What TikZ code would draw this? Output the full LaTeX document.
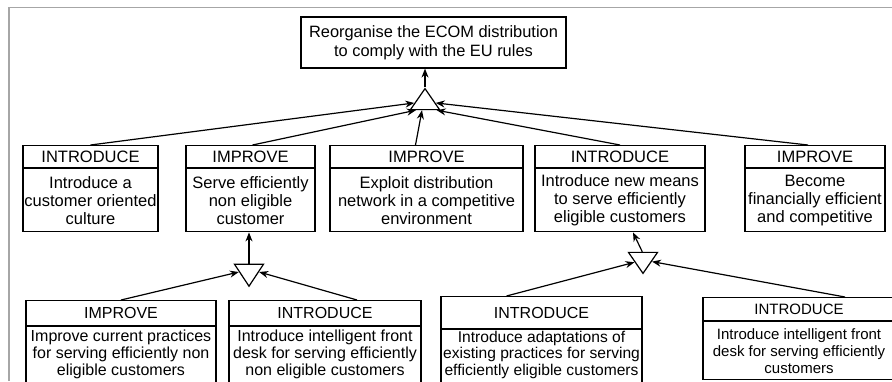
\documentclass[tikz,border=0pt]{standalone}
\usepackage{fontspec}
\setmainfont{Liberation Sans}
\usetikzlibrary{positioning,shapes.geometric,arrows.meta}

\begin{document}
\begin{tikzpicture}[x=1pt,y=-1pt,->,>={Stealth[length=9pt,width=7pt]},line width=1.2pt,
    head/.style={draw,-,minimum height=22pt,inner sep=0pt,font=\fontsize{16.5}{18}\selectfont},
    body/.style={draw,-,align=center,minimum height=63pt,inner sep=0pt,font=\fontsize{16.5}{18}\selectfont},
    lowbody/.style={body,minimum height=0pt,inner ysep=3pt,anchor=north,font=\fontsize{16}{17}\selectfont},
    andgate/.style={draw,-,isosceles triangle,isosceles triangle stretches,inner sep=0pt,
      minimum width=29pt,minimum height=21pt}]
  \useasboundingbox (0,0) rectangle (892,381);
  \draw[-,black!35,line width=1.5pt] (9,381) -- (9,7.5) -- (892,7.5);

  % goal
  \node[draw,align=center,minimum width=265pt,minimum height=51pt,inner sep=0pt,
    font=\fontsize{16.4}{19}\selectfont] (goal) at (433.5,42.5)
    {Reorganise the ECOM distribution\\to comply with the EU rules};
  \node[andgate,shape border rotate=90] (t0) at (425,102) {};

  % second level
  \node[head,minimum width=135pt,anchor=north] (h1) at (90.5,145) {INTRODUCE};
  \node[body,minimum width=135pt,below=0pt of h1] (b1) {Introduce a\\customer oriented\\culture};
  \node[head,minimum width=129pt,anchor=north] (h2) at (250.5,145) {IMPROVE};
  \node[body,minimum width=129pt,below=0pt of h2] (b2) {Serve efficiently\\non eligible\\customer};
  \node[head,minimum width=193pt,anchor=north] (h3) at (426.5,145) {IMPROVE};
  \node[body,minimum width=193pt,below=0pt of h3] (b3) {Exploit distribution\\network in a competitive\\environment};
  \node[head,minimum width=170pt,anchor=north] (h4) at (620,145) {INTRODUCE};
  \node[body,minimum width=170pt,below=0pt of h4] (b4) {Introduce new means\\to serve efficiently\\eligible customers};
  \node[head,minimum width=140pt,anchor=north] (h5) at (815,145) {IMPROVE};
  \node[body,minimum width=140pt,below=0pt of h5] (b5) {Become\\financially efficient\\and competitive};

  \draw (h1.north) -- (t0.185);
  \draw ([xshift=2pt]h2.north) -- (t0.222);
  \draw ([xshift=-11pt]h3.north) -- (t0.250);
  \draw (h4.north) -- (t0.325);
  \draw ([xshift=-7pt]h5.north) -- (t0.355);
  \draw (t0.apex) -- (t0.apex |- goal.south);

  % third level
  \node[andgate,shape border rotate=270,minimum height=22pt] (t1) at (249,272) {};
  \node[andgate,shape border rotate=270] (t2) at (643,260) {};

  \node[head,minimum width=190pt,minimum height=25pt,anchor=north,font=\fontsize{16}{17}\selectfont] (h6) at (121,300) {IMPROVE};
  \node[lowbody,minimum width=190pt] (b6) at (h6.south)
    {Improve current practices\\for serving efficiently non\\eligible customers\\ \strut\\ \strut};
  \node[head,minimum width=192pt,minimum height=25pt,anchor=north,font=\fontsize{16}{17}\selectfont] (h7) at (325,300) {INTRODUCE};
  \node[lowbody,minimum width=192pt] (b7) at (h7.south)
    {Introduce intelligent front\\desk for serving efficiently\\non eligible customers\\ \strut\\ \strut};
  \node[head,minimum width=201pt,minimum height=32pt,anchor=north,font=\fontsize{16}{17}\selectfont] (h8) at (541.5,296) {INTRODUCE};
  \node[lowbody,minimum width=201pt,inner ysep=1pt,font=\fontsize{15.6}{16.5}\selectfont] (b8) at (h8.south)
    {Introduce adaptations of\\existing practices for serving\\efficiently eligible customers\\ \strut\\ \strut};
  \node[head,minimum width=192pt,minimum height=23pt,anchor=north,font=\fontsize{15}{17}\selectfont] (h9) at (799,297) {INTRODUCE};
  \node[body,minimum width=192pt,minimum height=58pt,below=0pt of h9,font=\fontsize{15}{17}\selectfont] (b9)
    {Introduce intelligent front\\desk for serving efficiently\\customers};

  \draw (h6.north) -- (t1.180);
  \draw ([xshift=32pt]h7.north) -- (t1.0);
  \draw (t1.90) -- (t1.90 |- b2.south);
  \draw ([xshift=-35pt]h8.north) -- (t2.195);
  \draw ([xshift=46pt]h9.north) -- (t2.350);
  \draw (t2.95) -- ([xshift=13pt]b4.south);
\end{tikzpicture}
\end{document}
